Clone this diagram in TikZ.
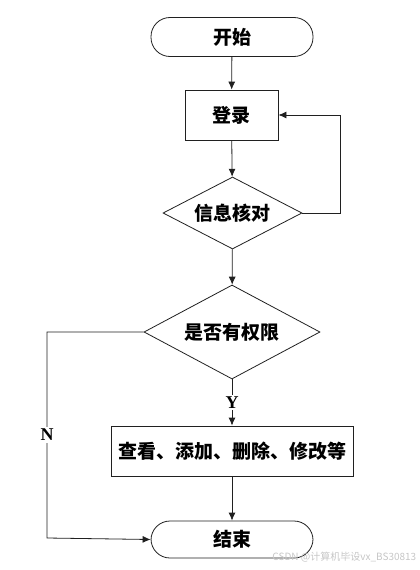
\documentclass[tikz,border=0pt]{standalone}
\usepackage{fontspec}
\setmainfont{Liberation Serif}
\newfontfamily\cjk{Noto Sans CJK SC}
\usetikzlibrary{shapes.geometric, arrows.meta}

\begin{document}
\begin{tikzpicture}[
  x=1pt, y=-1pt, line width=0.8pt,
  every node/.style={font=\cjk\bfseries\fontsize{19}{22}\selectfont},
  term/.style={draw=gray!25!black, rounded corners=19pt, minimum width=162pt, minimum height=39pt},
  proc/.style={draw=gray!25!black, rectangle, minimum height=50pt},
  cond/.style={draw=gray!25!black, diamond, inner sep=0pt, aspect=1.9},
  flow/.style={draw=gray!25!black, -{Latex[length=8pt, width=7pt]}},
  yesno/.style={fill=white, inner sep=2pt, font=\bfseries\fontsize{18}{20}\selectfont},
]
  \useasboundingbox (0,0) rectangle (420,570);

  % 流程节点
  \node[term] (start) at (232,37) {开始};
  \node[proc, minimum width=93pt] (login) at (231.5,115) {登录};
  \node[cond, minimum width=139pt, minimum height=72pt] (check) at (232.5,213) {信息核对};
  \node[cond, minimum width=176pt, minimum height=94pt] (perm) at (232,332) {是否有权限};
  \node[proc, minimum width=242pt] (ops) at (232,451) {查看、添加、删除、修改等};
  \node[term, minimum height=37pt] (stop) at (232,539.5) {结束};

  % 转折点
  \coordinate (loop) at (340,213);
  \coordinate (nturn) at (47,332);
  \coordinate (nend) at (47,538);

  % 主线
  \draw[flow] (start) -- (login);
  \draw[flow] (login) -- (check);
  \draw[flow] (check) -- (perm);
  \draw[flow] (perm) -- node[yesno] {Y} (ops);
  \draw[flow] (ops) -- (stop);

  % 核对失败返回登录
  \draw[flow] (check.east) -- (loop) |- (login.east);
  % 无权限直接结束
  \draw[flow] (perm.west) -- (nturn) -- node[yesno] {N} (nend) -- (stop.west);

  % 水印
  \node[anchor=east, text=gray!45, font=\cjk\fontsize{10}{12}\selectfont] (mark) at (420,557) {CSDN @计算机毕设vx\_BS30813};
\end{tikzpicture}
\end{document}
